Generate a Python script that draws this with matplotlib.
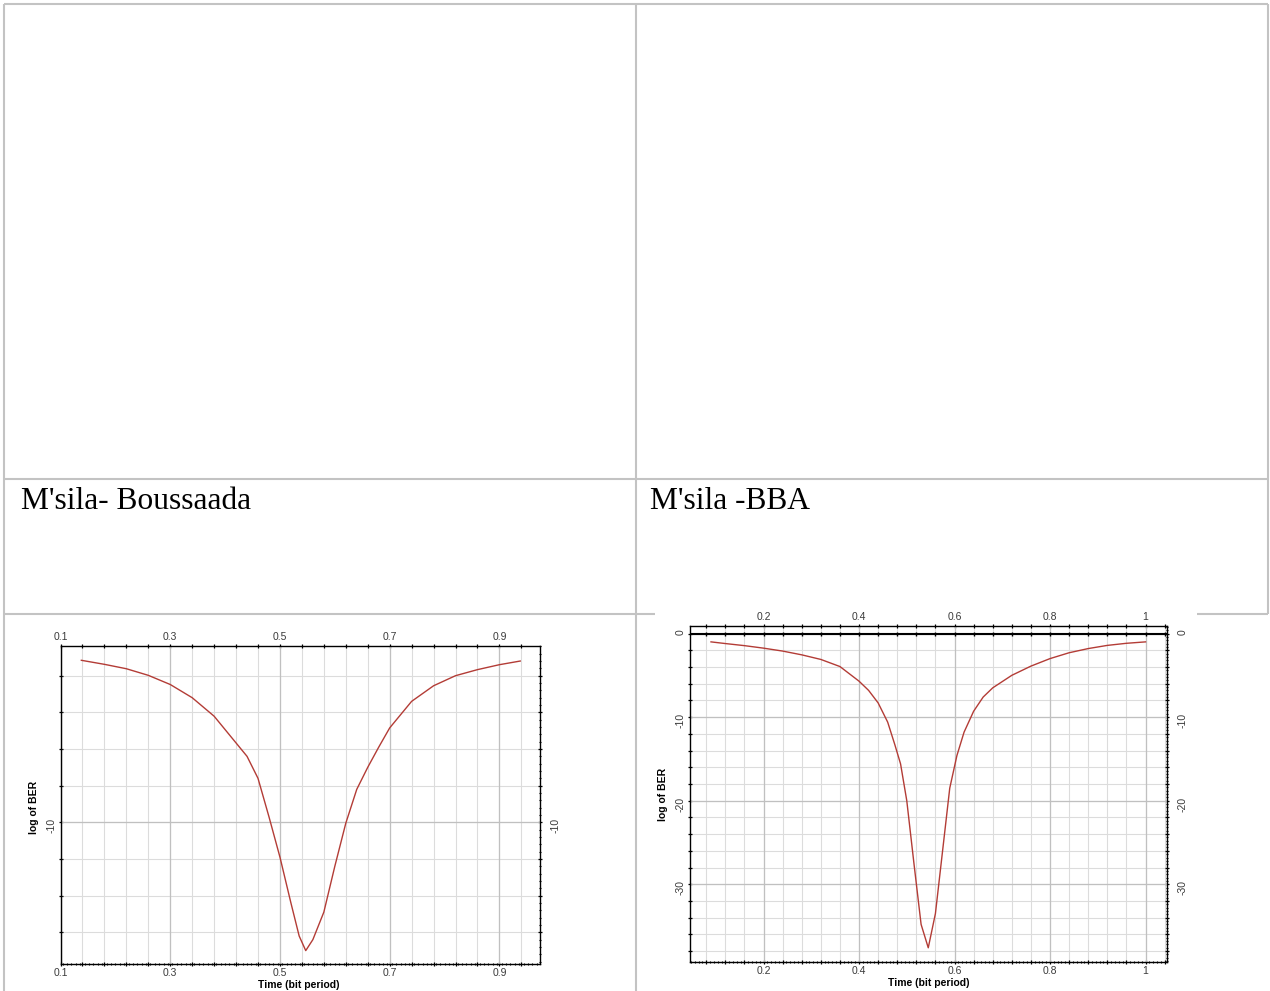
import numpy as np
import matplotlib
matplotlib.use("Agg")
import matplotlib.pyplot as plt
from matplotlib.lines import Line2D
from matplotlib.transforms import ScaledTranslation
from matplotlib.ticker import FixedLocator, MultipleLocator, FuncFormatter

W, H = 1270, 991

# Row captions of the table
row_labels = ["M'sila- Boussaada", "M'sila -BBA"]

# BER curve of the M'sila - Boussaada link (log10 of BER vs sampling instant)
boussaada_t = [0.138, 0.18, 0.22, 0.26, 0.30, 0.34, 0.38, 0.42, 0.44, 0.46,
               0.48, 0.50, 0.52, 0.535, 0.547, 0.56, 0.58, 0.60, 0.62, 0.64,
               0.66, 0.68, 0.70, 0.74, 0.78, 0.82, 0.86, 0.90, 0.938]
boussaada_logber = [-1.16, -1.38, -1.62, -1.98, -2.48, -3.2, -4.21, -5.67, -6.4, -7.6,
                    -9.7, -11.9, -14.4, -16.2, -17.0, -16.4, -14.9, -12.4, -10.05, -8.2,
                    -7.0, -5.9, -4.85, -3.4, -2.55, -2.0, -1.67, -1.4, -1.2]

# BER curve of the M'sila - BBA link
bba_t = [0.09, 0.12, 0.16, 0.20, 0.24, 0.28, 0.32, 0.36, 0.40, 0.42,
         0.44, 0.46, 0.475, 0.487, 0.50, 0.515, 0.530, 0.545, 0.560, 0.575,
         0.590, 0.605, 0.62, 0.64, 0.66, 0.68, 0.72, 0.76, 0.80, 0.84,
         0.88, 0.92, 0.96, 1.0]
bba_logber = [-1.0, -1.2, -1.45, -1.75, -2.1, -2.55, -3.1, -3.95, -5.7, -6.8,
              -8.3, -10.6, -13.3, -15.6, -20.0, -27.5, -34.8, -37.6, -33.5, -26.0,
              -18.5, -14.6, -11.8, -9.3, -7.6, -6.5, -5.0, -3.9, -3.0, -2.3,
              -1.8, -1.42, -1.17, -1.0]

# Axis tick labels
boussaada_xticklabels = [0.1, 0.3, 0.5, 0.7, 0.9]
boussaada_yticklabels = [-10]
bba_xticklabels = [0.2, 0.4, 0.6, 0.8, 1.0]
bba_yticklabels = [0, -10, -20, -30]

TICK_FONT = "Liberation Sans"
CURVE_COLOR = "#b33c36"
TABLE_COLOR = "#c3c3c3"


def fx(x):
    return x / W


def fy(y):
    return 1 - y / H


def box(l, t, r, b):
    return [l / W, 1 - b / H, (r - l) / W, (b - t) / H]


def table_line(x0, y0, x1, y1, lw=1.5, color=TABLE_COLOR):
    fig.add_artist(Line2D([fx(x0), fx(x1)], [fy(y0), fy(y1)],
                          transform=fig.transFigure, color=color, lw=lw,
                          solid_capstyle="butt"))


def only(labels):
    def f(v, pos):
        for l in labels:
            if abs(v - l) < 1e-6:
                return "%g" % l
        return ""
    return FuncFormatter(f)


def style_axes(ax, xlim, ylim, xgrid, ygrid, xlabels, ylabels, xminor, yminor):
    ax.set_xlim(xlim)
    ax.set_ylim(ylim)
    ax.xaxis.set_major_locator(FixedLocator(xgrid))
    ax.yaxis.set_major_locator(FixedLocator(ygrid))
    ax.xaxis.set_major_formatter(only(xlabels))
    ax.yaxis.set_major_formatter(only(ylabels))
    ax.xaxis.set_minor_locator(MultipleLocator(xminor))
    ax.yaxis.set_minor_locator(MultipleLocator(yminor))
    ax.grid(True, which="major", color="#dcdcdc", lw=0.8)
    for v in xlabels:
        ax.axvline(v, color="#c0c0c0", lw=0.9, zorder=0.6)
    for v in ylabels:
        ax.axhline(v, color="#c0c0c0", lw=0.9, zorder=0.6)
    ax.set_axisbelow(True)
    ax.tick_params(which="major", direction="inout", length=3, width=0.9,
                   color="black", top=True, right=True, bottom=True, left=True,
                   labeltop=True, labelright=True, labelsize=7.5,
                   labelcolor="#3a3a3a", pad=1.5)
    ax.tick_params(which="minor", direction="inout", length=1.8, width=0.8,
                   color="black", top=False, left=False, bottom=True, right=True)
    ax.tick_params(axis="y", labelrotation=90)
    # right-hand labels sit a little further from the frame
    shift = ScaledTranslation(6 / 100, 0, fig.dpi_scale_trans)
    for tick in ax.yaxis.get_major_ticks():
        tick.label2.set_transform(tick.label2.get_transform() + shift)
    for lab in ax.get_xticklabels() + ax.get_yticklabels():
        lab.set_fontfamily(TICK_FONT)
    for side, s in ax.spines.items():
        s.set_color("black")
        s.set_linewidth(1.0)


fig = plt.figure(figsize=(W / 100, H / 100), dpi=100)
fig.patch.set_facecolor("white")

# Table grid
table_line(4, 4, 1268, 4)
table_line(4, 4, 4, H)
table_line(1268, 4, 1268, 614)
table_line(636, 4, 636, H)
table_line(4, 479, 1268, 479)
table_line(4, 614, 655, 614)
table_line(1197, 614, 1268, 614)

# Row captions
fig.text(fx(21), fy(509), row_labels[0], fontfamily="Liberation Serif",
         fontsize=22.7, va="baseline", ha="left", color="black")
fig.text(fx(650), fy(509), row_labels[1], fontfamily="Liberation Serif",
         fontsize=22.7, va="baseline", ha="left", color="black")

# Left panel: M'sila - Boussaada
ax1 = fig.add_axes(box(60.5, 646, 540, 964))
ax1.plot(boussaada_t, boussaada_logber, color=CURVE_COLOR, lw=1.0, zorder=3)
style_axes(ax1, (0.1, 0.974), (-17.73, -0.38),
           np.arange(0.1, 0.96, 0.04), np.arange(-18, 0.5, 2),
           boussaada_xticklabels, boussaada_yticklabels, 0.008, 0.4)

# Right panel: M'sila - BBA
ax2 = fig.add_axes(box(690, 626, 1167, 962))
ax2.plot(bba_t, bba_logber, color=CURVE_COLOR, lw=1.0, zorder=3)
bba_xgrid = np.arange(0.08, 1.045, 0.04)
style_axes(ax2, (0.046, 1.045), (-39.3, 0.9),
           bba_xgrid, np.arange(-38, 0.5, 2),
           bba_xticklabels, bba_yticklabels, 0.008, 0.4)
ax2.axhline(0, color="black", lw=1.5, zorder=2.5)
ax2.plot(bba_xgrid, np.zeros(len(bba_xgrid)), ls="none", marker="|",
         ms=3.5, mew=1.0, color="black", zorder=2.6)

# Axis titles
lab_kw = dict(fontfamily=TICK_FONT, fontweight="bold", fontsize=7.5,
              color="black", ha="center", va="center")
fig.text(fx(34), fy(807), "log of BER", rotation=90, **lab_kw)
fig.text(fx(299), fy(985), "Time (bit period)", **lab_kw)
fig.text(fx(663.5), fy(794), "log of BER", rotation=90, **lab_kw)
fig.text(fx(929), fy(983), "Time (bit period)", **lab_kw)

fig.savefig("out.png", dpi=100, facecolor="white")
